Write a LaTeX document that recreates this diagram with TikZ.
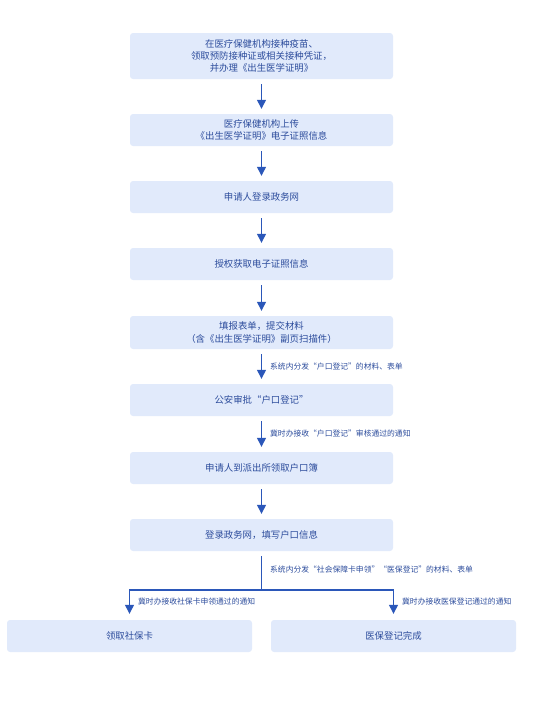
\documentclass[tikz,border=0pt]{standalone}
\usepackage{fontspec}
\setmainfont{Noto Sans CJK SC}
\usetikzlibrary{arrows.meta}
\definecolor{boxfill}{HTML}{E1EAFB}
\definecolor{boxtext}{HTML}{2C4C9C}
\definecolor{flowblue}{HTML}{2B57B9}
\tikzset{
  stepbox/.style={fill=boxfill,rounded corners=3pt,minimum width=263pt,align=center,text=boxtext,font=\fontsize{9.4}{12.3}\selectfont,inner sep=0pt},
  endbox/.style={stepbox,minimum width=245pt,minimum height=32pt},
  flow/.style={-{Triangle[width=9pt,length=9pt]},line width=1.3pt,flowblue},
  note/.style={font=\fontsize{7.8}{9}\selectfont,text=boxtext,anchor=west,inner sep=0pt}
}
\begin{document}
\begin{tikzpicture}[x=1pt,y=-1pt]
  \useasboundingbox (0,0) rectangle (556,702);
  \node[stepbox,minimum height=46pt] (vac) at (261.5,56) {在医疗保健机构接种疫苗、\\领取预防接种证或相关接种凭证，\\并办理《出生医学证明》};
  \node[stepbox,minimum height=32pt] (upl) at (261.5,130) {医疗保健机构上传\\《出生医学证明》电子证照信息};
  \node[stepbox,minimum height=32pt] (login) at (261.5,197) {申请人登录政务网};
  \node[stepbox,minimum height=32pt] (auth) at (261.5,264) {授权获取电子证照信息};
  \node[stepbox,minimum height=33pt] (form) at (261.5,332.5) {填报表单，提交材料\\（含《出生医学证明》副页扫描件）};
  \node[stepbox,minimum height=32pt] (police) at (261.5,400) {公安审批“户口登记”};
  \node[stepbox,minimum height=32pt] (book) at (261.5,468) {申请人到派出所领取户口簿};
  \node[stepbox,minimum height=32pt] (fill) at (261.5,535) {登录政务网，填写户口信息};
  \node[endbox] (card) at (129.5,636) {领取社保卡};
  \node[endbox] (med) at (393.5,636) {医保登记完成};
  % main column
  \draw[flow] ([yshift=-5pt]vac.south) -- ([yshift=5pt]upl.north);
  \draw[flow] ([yshift=-5pt]upl.south) -- ([yshift=5pt]login.north);
  \draw[flow] ([yshift=-5pt]login.south) -- ([yshift=5pt]auth.north);
  \draw[flow] ([yshift=-5pt]auth.south) -- ([yshift=5pt]form.north);
  \draw[flow] ([yshift=-5pt]form.south) -- ([yshift=5pt]police.north)
    node[note,pos=0.5,xshift=8pt] {系统内分发“户口登记”的材料、表单};
  \draw[flow] ([yshift=-5pt]police.south) -- ([yshift=5pt]book.north)
    node[note,pos=0.5,xshift=8pt] {冀时办接收“户口登记”审核通过的通知};
  \draw[flow] ([yshift=-5pt]book.south) -- ([yshift=5pt]fill.north);
  % branch
  \coordinate (split) at (261.5,590);
  \draw[line width=1.3pt,flowblue] ([yshift=-5pt]fill.south) -- (split)
    node[note,pos=0.4,xshift=8pt] {系统内分发“社会保障卡申领”“医保登记”的材料、表单};
  \draw[flow] (split) -| ([yshift=6pt]card.north)
    node[note,pos=0.75,xshift=8pt] {冀时办接收社保卡申领通过的通知};
  \draw[flow] (split) -| ([yshift=6pt]med.north)
    node[note,pos=0.75,xshift=8pt] {冀时办接收医保登记通过的通知};
\end{tikzpicture}
\end{document}
